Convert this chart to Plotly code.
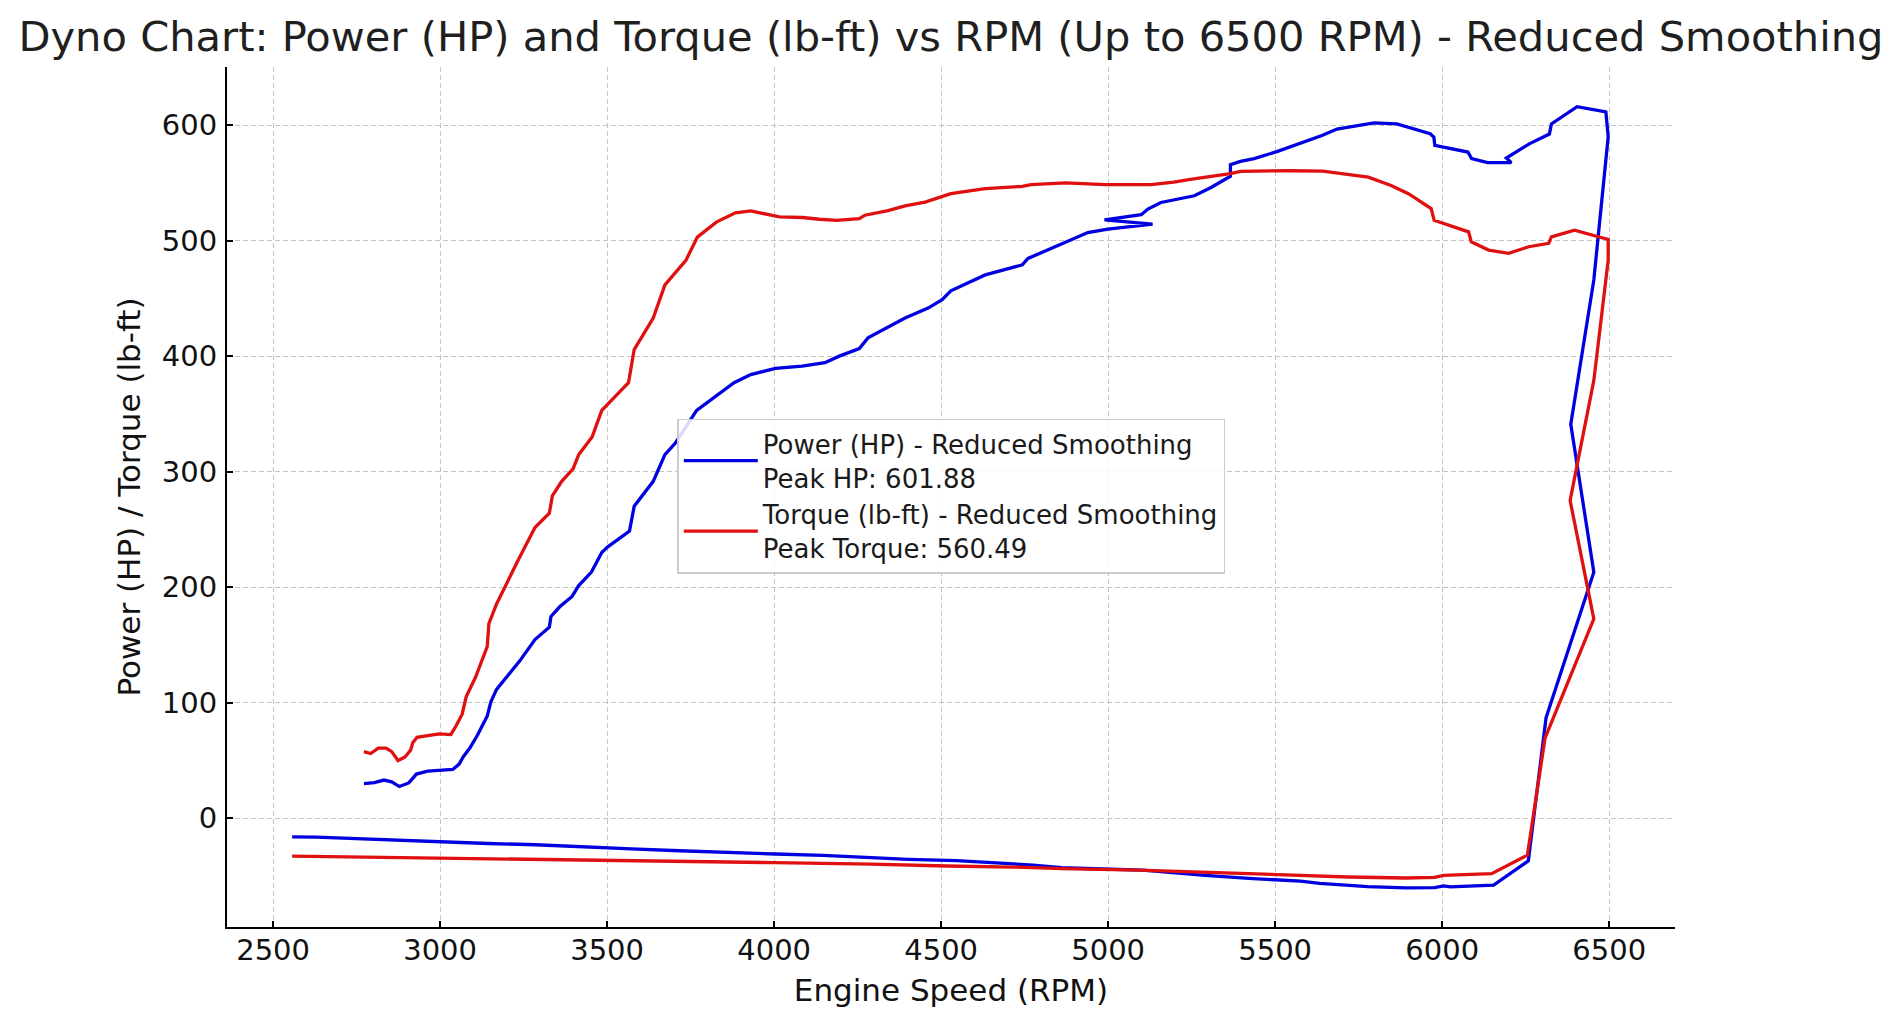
import plotly.graph_objects as go

# ---- Data ----
power_rpm = [2772, 2803, 2832, 2855, 2878, 2906, 2918, 2929, 2963, 2998, 3038, 3057, 3069, 3089,
             3112, 3141, 3152, 3169, 3198, 3238, 3284, 3327, 3332, 3358, 3395, 3415, 3453, 3484,
             3501, 3567, 3581, 3638, 3673, 3705, 3768, 3833, 3880, 3930, 4004, 4084, 4136, 4152,
             4195, 4255, 4281, 4392, 4461, 4503, 4529, 4632, 4743, 4760, 4860, 4939, 4999, 5133,
             4989, 5099, 5119, 5158, 5258, 5308, 5366, 5366, 5396, 5437, 5505, 5574, 5640, 5685,
             5740, 5796, 5864, 5933, 5964, 5975, 5978, 6077, 6088, 6136, 6207, 6192, 6262, 6321,
             6327, 6404, 6490, 6497, 6454, 6385, 6454, 6311, 6258, 6154, 6024, 6005, 5977, 5891,
             5777, 5633, 5576, 5433, 5290, 5104, 5004, 4861, 4775, 4660, 4546, 4403, 4289, 4146,
             4003, 3859, 3716, 3573, 3429, 3286, 3143, 3000, 2858, 2758, 2629, 2557]
power_hp = [29.9, 30.8, 33.0, 31.4, 27.4, 30.5, 34.5, 38.2, 40.7, 41.6, 42.2, 46.8, 53.0, 60.7,
            72.0, 88.4, 100.7, 111.5, 122.0, 136.0, 154.6, 165.4, 174.6, 183.0, 192.0, 201.4, 213.0, 230.0,
            234.7, 248.5, 270.0, 291.6, 314.7, 325.0, 353.0, 367.0, 377.0, 384.0, 389.4, 391.4, 393.5, 394.3,
            400.0, 406.6, 415.8, 433.0, 441.6, 448.8, 456.5, 470.3, 479.0, 484.6, 497.0, 507.0, 510.0, 514.3,
            518.0, 522.4, 527.3, 533.0, 538.8, 546.0, 555.7, 565.7, 568.6, 571.0, 577.0, 584.0, 591.0, 596.6,
            599.5, 601.88, 601.0, 595.0, 592.5, 589.6, 582.5, 576.7, 571.0, 567.5, 567.5, 571.5, 584.0, 592.3,
            601.0, 616.0, 611.5, 590.0, 466.0, 341.0, 213.0, 87.0, -37.0, -58.0, -59.5, -58.7, -60.1, -60.4,
            -59.2, -56.4, -54.4, -52.3, -49.5, -44.9, -44.3, -42.9, -40.6, -38.5, -36.8, -35.7, -33.9, -32.2,
            -31.0, -29.9, -28.2, -26.5, -24.7, -23.0, -21.9, -20.4, -18.4, -17.3, -16.4, -16.1]

torque_rpm = [2772, 2792, 2815, 2838, 2855, 2874, 2895, 2912, 2918, 2931, 2963, 2998, 3032, 3046,
              3066, 3078, 3106, 3141, 3146, 3169, 3232, 3284, 3327, 3336, 3364, 3398, 3415, 3455,
              3484, 3564, 3581, 3638, 3673, 3736, 3770, 3827, 3884, 3930, 4016, 4084, 4136, 4187,
              4255, 4272, 4341, 4392, 4452, 4495, 4529, 4632, 4743, 4769, 4872, 4991, 5128, 5197,
              5246, 5366, 5396, 5545, 5642, 5779, 5847, 5899, 5967, 5976, 6079, 6087, 6139, 6199,
              6259, 6319, 6327, 6396, 6497, 6497, 6454, 6383, 6454, 6308, 6255, 6148, 6005, 5977,
              5891, 5719, 5576, 5505, 5290, 5090, 4861, 4717, 4517, 4289, 4003, 3716, 3429, 3143,
              2858, 2643, 2557]
torque_lbft = [57.6, 56.0, 60.7, 60.7, 57.6, 49.9, 53.0, 59.0, 65.3, 70.0, 71.5, 73.0, 72.4, 79.0,
               90.0, 105.0, 122.0, 148.5, 168.5, 185.4, 222.4, 251.6, 264.0, 279.0, 291.6, 302.4, 314.7, 330.0,
               353.0, 377.0, 405.7, 433.0, 461.7, 483.0, 503.0, 516.0, 524.0, 525.7, 520.5, 520.0, 518.5, 517.6,
               519.0, 522.0, 526.0, 530.0, 533.4, 537.7, 540.6, 545.0, 547.0, 548.4, 550.0, 548.4, 548.4, 550.6,
               553.0, 558.0, 560.0, 560.49, 560.2, 555.0, 547.8, 540.6, 527.7, 517.6, 507.6, 499.0, 491.8, 489.0,
               494.7, 497.6, 503.3, 509.0, 501.0, 483.0, 379.0, 275.0, 172.5, 69.4, -32.0, -48.0, -49.5, -51.2,
               -51.8, -50.9, -49.5, -48.9, -47.2, -44.9, -43.7, -42.3, -41.4, -39.7, -38.5, -37.4, -35.9, -34.8,
               -33.6, -32.8, -32.8]

peak_hp = 601.88
peak_torque = 560.49

title_text = "Dyno Chart: Power (HP) and Torque (lb-ft) vs RPM (Up to 6500 RPM) - Reduced Smoothing"
x_title = "Engine Speed (RPM)"
y_title = "Power (HP) / Torque (lb-ft)"

FONT = "DejaVu Sans, Liberation Sans, sans-serif"

fig = go.Figure()
fig.add_trace(go.Scatter(
    x=power_rpm, y=power_hp, mode="lines",
    name=f"Power (HP) - Reduced Smoothing<br>Peak HP: {peak_hp:.2f}",
    line=dict(color="#0000e0", width=3.3),
))
fig.add_trace(go.Scatter(
    x=torque_rpm, y=torque_lbft, mode="lines",
    name=f"Torque (lb-ft) - Reduced Smoothing<br>Peak Torque: {peak_torque:.2f}",
    line=dict(color="#e01010", width=3.3),
))

axis_common = dict(
    showline=True, linecolor="black", linewidth=2,
    ticks="inside", ticklen=6, tickwidth=1.5, tickcolor="black",
    showgrid=True, gridcolor="#c4c4c4", gridwidth=1, griddash="5px,3px",
    zeroline=False,
    tickfont=dict(family=FONT, size=29, color="#111111"),
    mirror=False,
)

fig.update_layout(
    width=1900, height=1027,
    margin=dict(l=227, r=225, t=67, b=100),
    paper_bgcolor="white", plot_bgcolor="white",
    font=dict(family=FONT, color="#111111"),
    title=dict(text=title_text, x=0.5, xanchor="center", xref="paper",
               y=1 - 36 / 1027, yref="container", yanchor="middle",
               font=dict(family=FONT, size=41.6, color="#1f1f1f")),
    xaxis=dict(range=[2362, 6697], tick0=0, dtick=500,
               title=dict(text=x_title, font=dict(family=FONT, size=31, color="#111111"), standoff=14),
               ticklabelstandoff=-4,
               **axis_common),
    yaxis=dict(range=[-94.2, 650.3], tick0=0, dtick=100,
               title=dict(text=y_title, font=dict(family=FONT, size=31, color="#111111"), standoff=12),
               ticklabelstandoff=2,
               **axis_common),
    legend=dict(x=0.311, y=0.591, xanchor="left", yanchor="top",
                bgcolor="rgba(255,255,255,0.85)", bordercolor="#cccccc", borderwidth=1.5,
                font=dict(family=FONT, size=26, color="#1a1a1a"),
                tracegroupgap=8, itemwidth=74),
    showlegend=True,
)

fig.write_html("out.html")
